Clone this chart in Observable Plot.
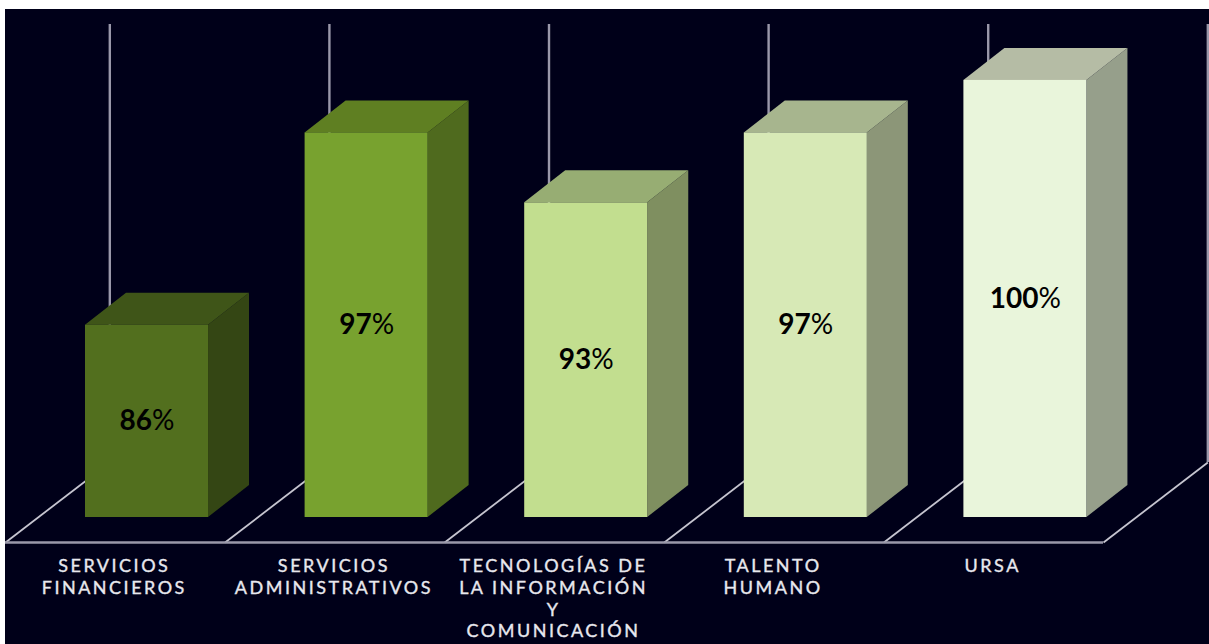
<!DOCTYPE html>
<html><head><meta charset="utf-8">
<script src="https://cdn.jsdelivr.net/npm/d3@7"></script>
<script src="https://cdn.jsdelivr.net/npm/@observablehq/plot@0.6"></script>
<style>
html,body{margin:0;padding:0;background:#fff;overflow:hidden}
body{padding:9px 0 0 5px}
svg{display:block}
g[aria-label="x-axis tick label"]{letter-spacing:2.5px;stroke:#e8e8ee;stroke-width:.35px}
</style></head><body><div id="c"></div>
<script>
const categories = ["SERVICIOS FINANCIEROS","SERVICIOS ADMINISTRATIVOS","TECNOLOGÍAS DE LA INFORMACIÓN Y COMUNICACIÓN","TALENTO HUMANO","URSA"];
const tickLabels = ["SERVICIOS\nFINANCIEROS","SERVICIOS\nADMINISTRATIVOS","TECNOLOGÍAS DE\nLA INFORMACIÓN\nY\nCOMUNICACIÓN","TALENTO\nHUMANO","URSA"];
const values = [86, 97, 93, 97, 100];
const frontColors = ["#526F1E","#78A22F","#C2DE8F","#D7E9B6","#E9F5DB"];
const sideColors  = ["#344614","#4F6A1E","#7F8F60","#8C9678","#969F8B"];
const topColors   = ["#3F5518","#5F7F22","#97AD73","#A7B58E","#B5BCA5"];

// plot geometry in data units
const floorFront = 73.57, floorBack = 78.15, wallTop = 103.2, barBase = 75;
const barLeft = 0.3643, barRight = 0.9245, barDepthX = 0.1867, barDepthY = 1.83, floorDepthX = 0.475;

const bars = values.map((v, i) => ({i, v, x1: i + barLeft, x2: i + barRight, category: categories[i]}));
const side = bars.flatMap(b => [
  {i: b.i, x: b.x2, y1: barBase, y2: b.v, fill: sideColors[b.i]},
  {i: b.i, x: b.x2 + barDepthX, y1: barBase + barDepthY, y2: b.v + barDepthY, fill: sideColors[b.i]}
]);
const top_ = bars.flatMap(b => [
  {i: b.i, y: b.v, x1: b.x1, x2: b.x2, fill: topColors[b.i]},
  {i: b.i, y: b.v + barDepthY, x1: b.x1 + barDepthX, x2: b.x2 + barDepthX, fill: topColors[b.i]}
]);
const walls = d3.range(categories.length + 1);

function percentTspans(index, scales, vals, dims, ctx, next) {
  const g = next(index, scales, vals, dims, ctx);
  g.querySelectorAll("text").forEach(t => {
    const s = t.textContent;
    t.textContent = "";
    const a = document.createElementNS("http://www.w3.org/2000/svg", "tspan");
    a.setAttribute("font-weight", "700");
    a.textContent = s.slice(0, -1);
    const b = document.createElementNS("http://www.w3.org/2000/svg", "tspan");
    b.setAttribute("font-weight", "400");
    b.textContent = "%";
    t.append(a, b);
  });
  return g;
}

const chart = Plot.plot({
  width: 1204, height: 635,
  marginLeft: 0, marginRight: 106, marginTop: 15, marginBottom: 102,
  style: {background: "#000019", fontFamily: "Lato, sans-serif", overflow: "visible"},
  x: {domain: [0, 5], axis: null},
  y: {domain: [floorFront, wallTop], axis: null},
  color: {type: "identity"},
  marks: [
    Plot.ruleX(walls, {x: i => i + floorDepthX, y1: () => floorBack, y2: () => wallTop, stroke: "#9a98aa", strokeWidth: 2.4}),
    Plot.link(walls, {x1: i => i, x2: i => i + floorDepthX, y1: () => floorFront, y2: () => floorBack, stroke: "#c6c5d0", strokeWidth: 1.8}),
    Plot.ruleY([floorFront], {x1: 0, x2: 5, stroke: "#9a98aa", strokeWidth: 2.4}),
    Plot.axisX({
      ticks: d3.range(categories.length).map(i => i + 0.5),
      tickFormat: x => tickLabels[Math.floor(x)],
      tickSize: 0, tickPadding: 14, label: null, dx: -1,
      fontSize: 18, lineHeight: 1.21, fill: "#e8e8ee", textAnchor: "middle"
    }),
    Plot.areaY(side, {x: "x", y1: "y1", y2: "y2", z: "i", fill: "fill"}),
    Plot.areaX(top_, {y: "y", x1: "x1", x2: "x2", z: "i", fill: "fill"}),
    Plot.rectY(bars, {x1: "x1", x2: "x2", y1: () => barBase, y2: "v", fill: (d) => frontColors[d.i]}),
    Plot.text(bars, {
      x: d => (d.x1 + d.x2) / 2, y: d => (d.v + barBase) / 2,
      text: d => d.v + "%", fill: "#000", fontSize: 28,
      render: percentTspans
    })
  ]
});
document.getElementById("c").append(chart);
</script></body></html>
